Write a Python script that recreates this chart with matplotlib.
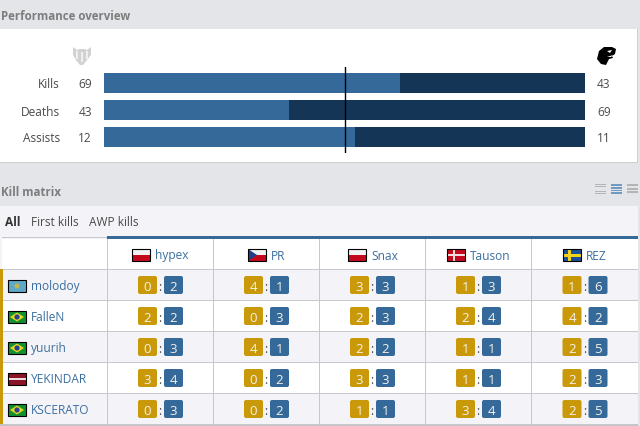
import matplotlib
matplotlib.use("Agg")
import matplotlib.pyplot as plt
from matplotlib.patches import Rectangle, FancyBboxPatch, Polygon, Circle

plt.rcParams['font.family'] = ['Open Sans', 'DejaVu Sans']

# performance overview
stat_names = ["Kills", "Deaths", "Assists"]
left_team = [69, 43, 12]
right_team = [43, 69, 11]

# kill matrix
opponents = ["hypex", "PR", "Snax", "Tauson", "REZ"]
opponent_flags = ["pl", "cz", "pl", "dk", "se"]
players = ["molodoy", "FalleN", "yuurih", "YEKINDAR", "KSCERATO"]
player_flags = ["kz", "br", "br", "lv", "br"]
kills_for = [[0, 4, 3, 1, 1],
             [2, 0, 2, 2, 4],
             [0, 4, 2, 1, 2],
             [3, 0, 3, 1, 2],
             [0, 0, 1, 3, 2]]
kills_against = [[2, 1, 3, 3, 6],
                 [2, 3, 3, 4, 2],
                 [3, 1, 2, 1, 5],
                 [4, 2, 3, 1, 3],
                 [3, 2, 1, 4, 5]]
tabs = ["All", "First kills", "AWP kills"]

BG = "#e4e5e9"
BLUE = "#34699a"
NAVY = "#143556"
GOLD = "#c9990a"
GREY_LINE = "#c8c8cc"
ROW = "#f4f4f8"
LINK = "#3b6f9f"
TXT = "#4a4a4a"
TITLE = "#7d7d7d"

fig = plt.figure(figsize=(6.4, 4.27), dpi=100, facecolor=BG)
ax = fig.add_axes([0, 0, 1, 1])
ax.set_xlim(0, 640)
ax.set_ylim(427, 0)
ax.axis("off")


def rect(x0, y0, x1, y1, color, z=1):
    ax.add_patch(Rectangle((x0, y0), x1 - x0, y1 - y0, facecolor=color, edgecolor="none", zorder=z))


def flag(x, y, code):
    w, h = 18, 12
    if code == "pl":
        rect(x, y, x + w, y + h / 2, "#f2f2f2", 3)
        rect(x, y + h / 2, x + w, y + h, "#c4091c", 3)
    elif code == "cz":
        rect(x, y, x + w, y + h / 2, "#f2f2f2", 3)
        rect(x, y + h / 2, x + w, y + h, "#c4091c", 3)
        ax.add_patch(Polygon([(x, y), (x + 9, y + h / 2), (x, y + h)], facecolor="#1f3f8a", zorder=4))
    elif code == "dk":
        rect(x, y, x + w, y + h, "#c4091c", 3)
        rect(x + 6, y, x + 8, y + h, "#f0dcdc", 4)
        rect(x, y + 5, x + w, y + 7, "#f0dcdc", 4)
    elif code == "se":
        rect(x, y, x + w, y + h, "#1c4f96", 3)
        rect(x + 5, y, x + 8, y + h, "#f2d21b", 4)
        rect(x, y + 4.5, x + w, y + 7.5, "#f2d21b", 4)
    elif code == "kz":
        rect(x, y, x + w, y + h, "#5fa8c8", 3)
        ax.add_patch(Circle((x + 9, y + 6), 2.5, facecolor="#c4b84a", zorder=4))
    elif code == "br":
        rect(x, y, x + w, y + h, "#12902f", 3)
        ax.add_patch(Polygon([(x + 2, y + 6), (x + 9, y + 1.5), (x + 16, y + 6), (x + 9, y + 10.5)],
                             facecolor="#e6d81e", zorder=4))
        ax.add_patch(Circle((x + 9, y + 6), 2.6, facecolor="#2a3f8f", zorder=5))
    elif code == "lv":
        rect(x, y, x + w, y + h, "#8a1426", 3)
        rect(x, y + 5, x + w, y + 7, "#e8dcdc", 4)
    ax.add_patch(Rectangle((x, y), w, h, facecolor="none", edgecolor="black", linewidth=0.8, zorder=6))


def badge(x0, y0, color, value):
    ax.add_patch(FancyBboxPatch((x0, y0), 19, 18, boxstyle="round,pad=0,rounding_size=2",
                                facecolor=color, edgecolor="none", zorder=3))
    ax.text(x0 + 9.5, y0 + 9.5, str(value), color="#f4f1e6", fontsize=9.5, ha="center", va="center_baseline", zorder=4)


# performance panel
rect(0, 30, 638, 164, "#cfcfd2", 1)
rect(0, 30, 637, 163, "white", 2)
ax.text(1, 16, "Performance overview", color=TITLE, fontsize=8.3, fontweight="bold", va="center")

# bars are shares of each stat, on their own axes
bar_ax = fig.add_axes([104 / 640, 1 - 154 / 427, (585 - 104) / 640, (154 - 68) / 427])
bar_ax.set_xlim(0, 1)
bar_ax.set_ylim(2.593, -0.593)
bar_ax.axis("off")
shares = [a / (a + b) for a, b in zip(left_team, right_team)]
bar_ax.barh(range(3), shares, height=0.74, color=BLUE)
bar_ax.barh(range(3), [1 - s for s in shares], left=shares, height=0.74, color=NAVY)
bar_ax.axvline(0.5, color="black", linewidth=1)

for i, name in enumerate(stat_names):
    y = 85 + i * 27
    ax.text(60, y, name, color=TXT, fontsize=8.6, ha="right", va="center")
    ax.text(92, y, str(left_team[i]), color=TXT, fontsize=8.6, ha="right", va="center")
    ax.text(597, y, str(right_team[i]), color=TXT, fontsize=8.6, ha="left", va="center")

# team logos
ax.add_patch(Polygon([(73, 48), (77, 51), (80, 50), (84, 50), (87, 51), (91, 48), (91, 56), (87, 61), (83, 66),
                      (80, 66), (76, 61), (73, 56)], facecolor="#d2d2d2", zorder=3))
for x0, y0, x1, y1 in [(76, 52, 78, 60), (81, 53, 83, 63), (86, 52, 88, 60)]:
    rect(x0, y0, x1, y1, "#efefef", 4)
ax.add_patch(Polygon([(599, 52), (604, 48), (612, 48), (616, 50), (615, 55), (612, 57), (613, 59), (609, 60),
                      (606, 66), (601, 65), (597, 60)], facecolor="black", zorder=3))
ax.add_patch(Polygon([(607, 52), (612, 51), (610, 54)], facecolor="white", zorder=4))
ax.add_patch(Polygon([(607, 58), (613, 56), (611, 58)], facecolor="white", zorder=4))

# kill matrix panel
ax.text(1, 193, "Kill matrix", color=TITLE, fontsize=8.3, fontweight="bold", va="center")
for k, (x0, c) in enumerate(zip([595, 611, 627], ["#b4b4b4", "#6f9ac2", "#b4b4b4"])):
    n = [6, 4, 3][k]
    for j in range(n):
        top = 185 + j * 11.0 / n
        rect(x0, top, x0 + 11, top + (0.7 if n == 6 else 1.9), c, 2)

rect(0, 207, 638, 427, ROW, 1)
rect(0, 425, 638, 427, "#c4c4c8", 1)
tab_x = [5, 31, 89]
for i, t in enumerate(tabs):
    ax.text(tab_x[i], 223, t, color="#333333" if i == 0 else TXT, fontsize=8.6,
            fontweight="bold" if i == 0 else "normal", va="center")

col_edges = [107, 213, 319, 425, 531, 638]
row_edges = [270, 301, 332, 363, 394, 425]
header_flag_x = [132, 248, 348, 447, 563]

rect(2, 240, 638, 270, "white", 1)
rect(2, 238, 107, 239, GREY_LINE, 2)
rect(107, 237, 638, 240, BLUE, 2)
for r in range(5):
    rect(2, row_edges[r], 638, row_edges[r + 1], ROW if r % 2 == 0 else "white", 1)
    rect(2, row_edges[r], 638, row_edges[r] + 1, GREY_LINE, 2)
rect(2, 425, 638, 426, GREY_LINE, 2)
rect(0, 270, 3, 425, GOLD, 3)
for x in col_edges[:-1]:
    rect(x, 240, x + 1, 425, GREY_LINE, 2)

for c, name in enumerate(opponents):
    flag(header_flag_x[c], 250, opponent_flags[c])
    ax.text(header_flag_x[c] + 23, 256, name, color=LINK, fontsize=8.6, va="center")

for r, name in enumerate(players):
    ymid = (row_edges[r] + row_edges[r + 1]) / 2
    flag(8, ymid - 4.5, player_flags[r])
    ax.text(31, ymid + 1, name, color=LINK, fontsize=8.6, va="center")
    for c in range(5):
        xmid = (col_edges[c] + col_edges[c + 1]) / 2
        badge(xmid - 22, ymid - 8.5, GOLD, kills_for[r][c])
        ax.text(xmid, ymid + 0.5, ":", color=TXT, fontsize=8.6, ha="center", va="center_baseline", zorder=4)
        badge(xmid + 4, ymid - 8.5, BLUE, kills_against[r][c])

fig.savefig("out.png", dpi=100, facecolor=BG)
